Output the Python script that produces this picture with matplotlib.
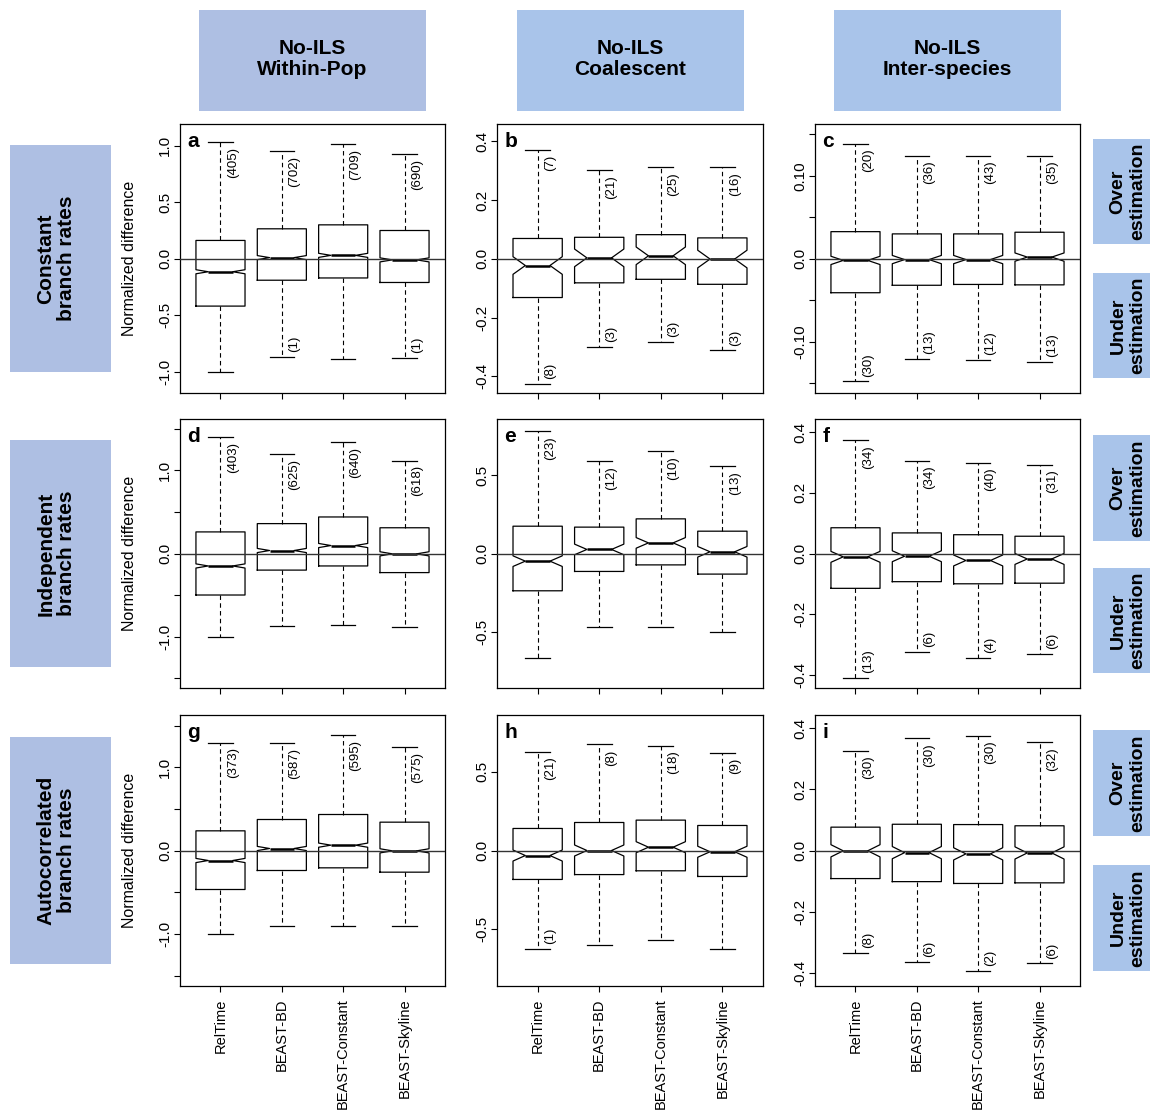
import matplotlib
matplotlib.use("Agg")
import matplotlib.pyplot as plt
from matplotlib.patches import Rectangle

plt.rcParams['font.family'] = ['Liberation Sans', 'DejaVu Sans']

# ---------------- data ----------------
METHODS = ["RelTime", "BEAST-BD", "BEAST-Constant", "BEAST-Skyline"]
COL_TITLES = ["No-ILS\nWithin-Pop", "No-ILS\nCoalescent", "No-ILS\nInter-species"]
ROW_TITLES = ["Constant\nbranch rates", "Independent\nbranch rates", "Autocorrelated\nbranch rates"]
PANEL_LETTERS = ["a", "b", "c", "d", "e", "f", "g", "h", "i"]

WHISK_HI = [
    [1.035, 0.954, 1.016, 0.930],
    [0.371, 0.302, 0.312, 0.311],
    [0.139, 0.124, 0.124, 0.124],
    [1.400, 1.200, 1.340, 1.120],
    [0.784, 0.590, 0.656, 0.560],
    [0.374, 0.307, 0.299, 0.293],
    [1.296, 1.292, 1.388, 1.240],
    [0.627, 0.674, 0.667, 0.619],
    [0.326, 0.367, 0.376, 0.355],
]
Q3 = [
    [0.162, 0.265, 0.300, 0.250],
    [0.069, 0.073, 0.082, 0.071],
    [0.0327, 0.030, 0.030, 0.032],
    [0.260, 0.360, 0.440, 0.310],
    [0.175, 0.169, 0.222, 0.143],
    [0.085, 0.068, 0.062, 0.057],
    [0.236, 0.372, 0.432, 0.340],
    [0.140, 0.178, 0.193, 0.159],
    [0.0765, 0.086, 0.085, 0.081],
]
MED = [
    [-0.115, 0.010, 0.030, -0.010],
    [-0.023, 0.003, 0.010, -0.001],
    [-0.002, -0.001, -0.001, 0.002],
    [-0.150, 0.036, 0.096, -0.004],
    [-0.049, 0.026, 0.068, 0.011],
    [-0.011, -0.009, -0.023, -0.018],
    [-0.120, 0.024, 0.064, -0.004],
    [-0.032, 0.000, 0.021, -0.008],
    [-0.001, -0.007, -0.011, -0.008],
]
Q1 = [
    [-0.419, -0.190, -0.170, -0.210],
    [-0.132, -0.082, -0.070, -0.087],
    [-0.041, -0.032, -0.031, -0.0315],
    [-0.500, -0.200, -0.150, -0.230],
    [-0.239, -0.115, -0.073, -0.132],
    [-0.115, -0.093, -0.100, -0.098],
    [-0.468, -0.240, -0.208, -0.260],
    [-0.184, -0.153, -0.129, -0.165],
    [-0.092, -0.102, -0.108, -0.106],
]
WHISK_LO = [
    [-1.000, -0.867, -0.890, -0.875],
    [-0.425, -0.300, -0.283, -0.312],
    [-0.148, -0.121, -0.122, -0.125],
    [-1.000, -0.875, -0.860, -0.890],
    [-0.667, -0.474, -0.468, -0.502],
    [-0.412, -0.325, -0.344, -0.331],
    [-1.004, -0.908, -0.900, -0.908],
    [-0.623, -0.600, -0.570, -0.623],
    [-0.336, -0.365, -0.395, -0.370],
]
NOTCH = [0.018, 0.030, 0.005, 0.025, 0.034, 0.018, 0.025, 0.035, 0.020]

N_OVER = [
    [405, 702, 709, 690],
    [7, 21, 25, 16],
    [20, 36, 43, 35],
    [403, 625, 640, 618],
    [23, 12, 10, 13],
    [34, 34, 40, 31],
    [373, 587, 595, 575],
    [21, 8, 18, 9],
    [30, 30, 30, 32],
]
N_UNDER = [
    [None, 1, None, 1],
    [8, 3, 3, 3],
    [30, 13, 12, 13],
    [None, None, None, None],
    [None, None, None, None],
    [13, 6, 4, 6],
    [None, None, None, None],
    [1, None, None, None],
    [8, 6, 2, 6],
]

YLIM = [1.188, 0.457, 0.162, 1.62, 0.862, 0.444, 1.626, 0.861, 0.444]
YTICKS = [
    [-1.0, -0.5, 0.0, 0.5, 1.0],
    [-0.4, -0.2, 0.0, 0.2, 0.4],
    [-0.15, -0.10, -0.05, 0.0, 0.05, 0.10, 0.15],
    [-1.5, -1.0, -0.5, 0.0, 0.5, 1.0, 1.5],
    [-0.5, 0.0, 0.5],
    [-0.4, -0.2, 0.0, 0.2, 0.4],
    [-1.5, -1.0, -0.5, 0.0, 0.5, 1.0, 1.5],
    [-0.5, 0.0, 0.5],
    [-0.4, -0.2, 0.0, 0.2, 0.4],
]
YTICKLABELS = [
    ["-1.0", "-0.5", "0.0", "0.5", "1.0"],
    ["-0.4", "-0.2", "0.0", "0.2", "0.4"],
    ["", "-0.10", "", "0.0", "", "0.10", ""],
    ["", "-1.0", "", "0.0", "", "1.0", ""],
    ["-0.5", "0.0", "0.5"],
    ["-0.4", "-0.2", "0.0", "0.2", "0.4"],
    ["", "-1.0", "", "0.0", "", "1.0", ""],
    ["-0.5", "0.0", "0.5"],
    ["-0.4", "-0.2", "0.0", "0.2", "0.4"],
]

# ---------------- layout (pixels) ----------------
W, H = 1150, 1115
COLS_X = [(180, 445), (497, 763), (815, 1080)]
ROWS_Y = [(124.5, 393), (419, 688), (715, 986)]
HEADER_COLOR = ["#aebfe3", "#a9c4ea", "#a9c4ea"]
ROW_COLOR = "#aebfe3"
SIDE_COLOR = "#a9c4ea"

fig = plt.figure(figsize=(W / 100, H / 100), dpi=100)


def fx(x):
    return x / W


def fy(y):
    return 1 - y / H


def fig_rect(x0, y0, x1, y1, color):
    fig.add_artist(Rectangle((fx(x0), fy(y1)), (x1 - x0) / W, (y1 - y0) / H,
                             transform=fig.transFigure, facecolor=color,
                             edgecolor="none", zorder=0))


# column headers
for c, (x0, x1) in enumerate(COLS_X):
    cx = (x0 + x1) / 2
    fig_rect(cx - 113.5, 10, cx + 113.5, 111, HEADER_COLOR[c])
    fig.text(fx(cx), fy(59), COL_TITLES[c], ha="center", va="center",
             fontsize=15, fontweight="bold", linespacing=1.1)

# row labels and over/under boxes
SIDE_BOXES = [((139, 244), (273, 378)), ((435, 541), (568, 673)), ((730, 836), (865, 971))]
for r, (y0, y1) in enumerate(ROWS_Y):
    cy = (y0 + y1) / 2
    fig_rect(10, cy - 113.5, 111, cy + 113.5, ROW_COLOR)
    fig.text(fx(56), fy(cy), ROW_TITLES[r], ha="center", va="center",
             rotation=90, fontsize=15, fontweight="bold", linespacing=1.1)
    fig.text(fx(130), fy(cy), "Normalized difference", ha="center", va="center",
             rotation=90, fontsize=11.5)
    for (sy0, sy1), lab in zip(SIDE_BOXES[r], ["Over\nestimation", "Under\nestimation"]):
        fig_rect(1093, sy0, 1165, sy1, SIDE_COLOR)
        fig.text(fx(1128), fy((sy0 + sy1) / 2), lab, ha="center", va="center",
                 rotation=90, fontsize=14, fontweight="bold", linespacing=1.2)

positions = [1, 2, 3, 4]
for p in range(9):
    r, c = divmod(p, 3)
    x0, x1 = COLS_X[c]
    y0, y1 = ROWS_Y[r]
    ax = fig.add_axes([fx(x0), fy(y1), (x1 - x0) / W, (y1 - y0) / H])
    stats = []
    for k in range(4):
        stats.append(dict(med=MED[p][k], q1=Q1[p][k], q3=Q3[p][k],
                          whislo=WHISK_LO[p][k], whishi=WHISK_HI[p][k],
                          cilo=MED[p][k] - NOTCH[p], cihi=MED[p][k] + NOTCH[p],
                          fliers=[]))
    ax.bxp(stats, positions=positions, widths=0.8, capwidths=0.4,
           shownotches=True, showfliers=False,
           boxprops=dict(color="black", linewidth=0.9),
           whiskerprops=dict(color="black", linewidth=0.8, linestyle=(0, (4, 3))),
           capprops=dict(color="black", linewidth=0.9),
           medianprops=dict(color="black", linewidth=1.8))
    ax.axhline(0, color="#333333", linewidth=1.0, zorder=5)
    ax.set_xlim(0.34, 4.66)
    ax.set_ylim(-YLIM[p], YLIM[p])
    ax.set_yticks(YTICKS[p])
    ax.set_yticklabels(YTICKLABELS[p], rotation=90, va="center", fontsize=11)
    ax.set_xticks(positions)
    if r == 2:
        ax.set_xticklabels(METHODS, rotation=90, va="top", fontsize=10.5)
    else:
        ax.set_xticklabels([])
    ax.tick_params(axis="both", direction="out", length=4, width=0.8, color="black")
    ax.tick_params(axis="y", pad=1.5)
    ax.tick_params(axis="x", pad=5)
    for s in ax.spines.values():
        s.set_linewidth(0.9)
        s.set_color("black")
    ax.text(0.027, 0.935, PANEL_LETTERS[p], transform=ax.transAxes,
            ha="left", va="center", fontsize=15, fontweight="bold")
    for k in range(4):
        n_hi = N_OVER[p][k]
        if n_hi is not None:
            ax.annotate(f"({n_hi})", xy=(positions[k] + 0.2, WHISK_HI[p][k]),
                        xytext=(0, -3.5), textcoords="offset points",
                        rotation=90, rotation_mode="anchor",
                        ha="right", va="center", fontsize=9.5)
        n_lo = N_UNDER[p][k]
        if n_lo is not None:
            ax.annotate(f"({n_lo})", xy=(positions[k] + 0.2, WHISK_LO[p][k]),
                        xytext=(0, 3.5), textcoords="offset points",
                        rotation=90, rotation_mode="anchor",
                        ha="left", va="center", fontsize=9.5)

fig.savefig("out.png", dpi=100)
